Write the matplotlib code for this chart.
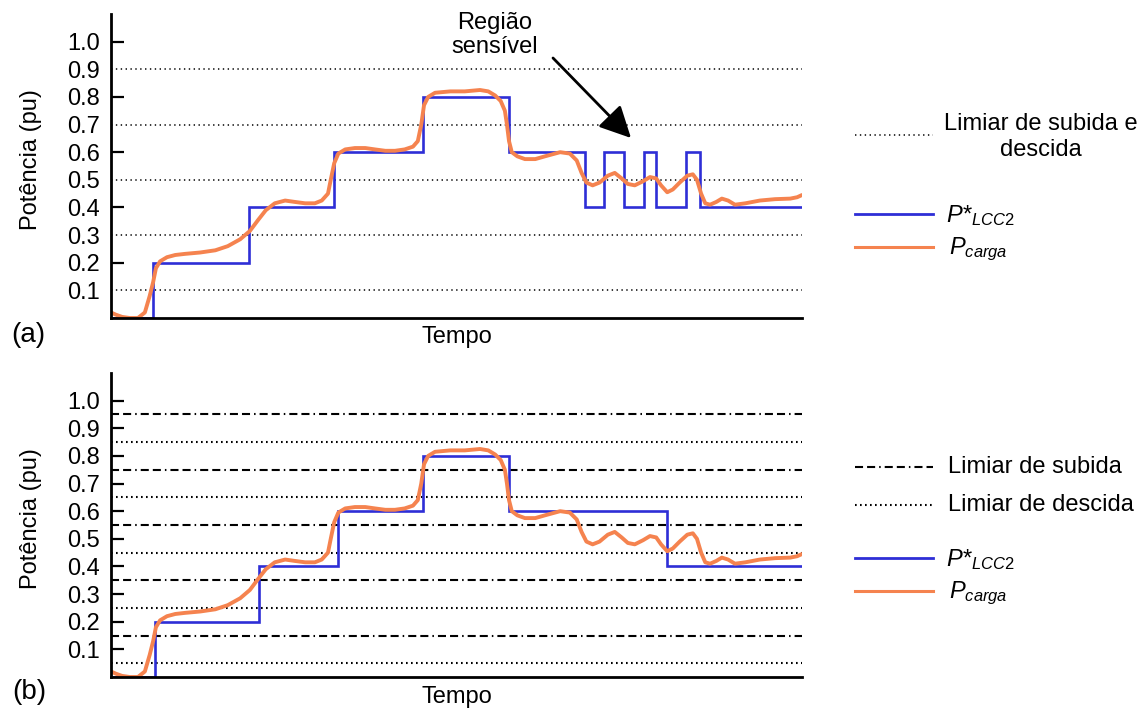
import matplotlib
matplotlib.use("Agg")
import matplotlib.pyplot as plt
from matplotlib.lines import Line2D

plt.rcParams['font.family'] = ['Liberation Sans', 'DejaVu Sans']
plt.rcParams['mathtext.fontset'] = 'custom'
plt.rcParams['mathtext.rm'] = 'Liberation Sans'
plt.rcParams['mathtext.it'] = 'Liberation Sans:italic'
plt.rcParams['lines.scale_dashes'] = False

# ---------------- data ----------------
t_carga = [0, 0.7, 1.6, 2.7, 3.9, 4.9, 5.6, 6.1, 6.5, 7.1, 8.1, 9.3, 10.7, 12.9, 15.1,
           16.9, 18.7, 20.1, 21.3, 22.4, 23.7, 25.2, 26.6, 28.1, 29.5, 30.5, 31.4, 31.8,
           32.3, 32.9, 33.9, 35.3, 36.8, 38.2, 39.7, 41.1, 42.5, 43.7, 44.4, 44.9, 45.3,
           45.9, 46.9, 49.1, 51.2, 53.4, 54.6, 55.6, 56.4, 57.0, 57.3, 57.6, 58.0, 58.8,
           59.9, 61.4, 62.8, 65.0, 66.4, 67.4, 68.1, 68.8, 69.7, 70.7, 71.9, 72.9, 73.9,
           74.8, 75.8, 77.0, 78.0, 78.9, 79.6, 80.5, 81.3, 82.3, 83.4, 84.2, 84.8, 85.4,
           86.0, 86.7, 87.6, 88.4, 89.3, 90.3, 91.8, 93.9, 96.1, 98.3, 99.3, 100]
p_carga = [0.02, 0.012, 0.004, 0.0, 0.0, 0.02, 0.08, 0.13, 0.18, 0.205, 0.22, 0.228,
           0.232, 0.237, 0.245, 0.26, 0.285, 0.315, 0.355, 0.39, 0.415, 0.425, 0.42,
           0.415, 0.415, 0.425, 0.45, 0.5, 0.56, 0.595, 0.61, 0.615, 0.615, 0.61, 0.605,
           0.605, 0.61, 0.62, 0.64, 0.7, 0.77, 0.8, 0.815, 0.82, 0.82, 0.825, 0.82,
           0.805, 0.785, 0.75, 0.7, 0.64, 0.6, 0.585, 0.575, 0.575, 0.585, 0.6, 0.595,
           0.57, 0.525, 0.49, 0.48, 0.49, 0.515, 0.525, 0.505, 0.485, 0.48, 0.495, 0.51,
           0.505, 0.48, 0.455, 0.465, 0.49, 0.515, 0.52, 0.5, 0.45, 0.415, 0.41, 0.42,
           0.432, 0.425, 0.41, 0.415, 0.425, 0.43, 0.432, 0.437, 0.445]

t_ref_a = [0, 6.1, 20.0, 32.3, 45.2, 57.6, 68.6, 71.3, 74.2, 77.1, 78.9, 83.2, 85.2, 100]
p_ref_a = [0, 0.2, 0.4, 0.6, 0.8, 0.6, 0.4, 0.6, 0.4, 0.6, 0.4, 0.6, 0.4, 0.4]

t_ref_b = [0, 6.4, 21.4, 32.9, 45.2, 57.6, 80.4, 100]
p_ref_b = [0, 0.2, 0.4, 0.6, 0.8, 0.6, 0.4, 0.4]

limiar_a = [0.1, 0.3, 0.5, 0.7, 0.9]
limiar_subida_b = [0.15, 0.35, 0.55, 0.75, 0.95]
limiar_descida_b = [0.05, 0.25, 0.45, 0.65, 0.85]

yticks = [0.1, 0.2, 0.3, 0.4, 0.5, 0.6, 0.7, 0.8, 0.9, 1.0]
ytick_labels = ['0.1', '0.2', '0.3', '0.4', '0.5', '0.6', '0.7', '0.8', '0.9', '1.0']

BLUE = '#2E2ED6'
ORANGE = '#F5834F'
FS = 17

W, H = 1142, 711
fig = plt.figure(figsize=(W / 100, H / 100), dpi=100)


def fpx(x, y):
    return (x / W, 1 - y / H)


ax_a = fig.add_axes([111 / W, 1 - 318 / H, 691 / W, 304 / H])
ax_b = fig.add_axes([111 / W, 1 - 677 / H, 691 / W, 304 / H])

dot_a = (0, (1.0, 2.5))
dot_b = (0, (1.2, 2.4))
dashdot_b = (0, (5.8, 2.9, 5.8, 2.9, 1.1, 2.9))

for ax, tref, pref in [(ax_a, t_ref_a, p_ref_a), (ax_b, t_ref_b, p_ref_b)]:
    ax.set_xlim(0, 100)
    ax.set_ylim(0, 1.1)
    ax.plot(tref, pref, drawstyle='steps-post', color=BLUE, lw=1.9, zorder=3,
            solid_joinstyle='miter')
    ax.plot(t_carga, p_carga, color=ORANGE, lw=2.8, zorder=4, solid_capstyle='round',
            solid_joinstyle='round')
    for s in ['top', 'right']:
        ax.spines[s].set_visible(False)
    for s in ['left', 'bottom']:
        ax.spines[s].set_linewidth(2.0)
        ax.spines[s].set_zorder(5)
    ax.set_xticks([])
    ax.set_yticks(yticks)
    ax.set_yticklabels(ytick_labels, fontsize=FS)
    ax.tick_params(axis='y', direction='in', length=9, width=1.6, pad=8)
    ax.set_ylabel('Potência (pu)', fontsize=FS)
    ax.yaxis.set_label_coords(-0.1, 0.52)
    ax.set_xlabel('Tempo', fontsize=FS)

ax_a.xaxis.set_label_coords(0.5, -0.025)
ax_b.xaxis.set_label_coords(0.5, -0.03)

# hide odd tick marks in (a)
for tk, v in zip(ax_a.yaxis.get_major_ticks(), yticks):
    if round(v * 10) % 2 == 1:
        tk.tick1line.set_visible(False)

for v in limiar_a:
    ax_a.axhline(v, color='black', lw=1.1, ls=dot_a, zorder=1)
for v in limiar_subida_b:
    ax_b.axhline(v, color='black', lw=1.5, ls=dashdot_b, zorder=1)
for v in limiar_descida_b:
    ax_b.axhline(v, color='black', lw=1.5, ls=dot_b, zorder=1)

# panel labels
fig.text(*fpx(28, 335), '(a)', fontsize=20, ha='center', va='center')
fig.text(*fpx(29, 692), '(b)', fontsize=20, ha='center', va='center')

# annotation
fig.text(*fpx(495, 35), 'Região\nsensível', fontsize=FS, ha='center', va='center',
         linespacing=1.1)
fig.add_artist(matplotlib.patches.FancyArrowPatch(
    fpx(553, 58), fpx(631, 138), transform=fig.transFigure,
    arrowstyle='-|>,head_length=12,head_width=6', color='black', lw=2.0,
    mutation_scale=1.6, shrinkA=0, shrinkB=0))

# legends
def leg_line(y, **kw):
    fig.add_artist(Line2D([855 / W, 933 / W], [1 - y / H, 1 - y / H],
                          transform=fig.transFigure, **kw))

leg_line(135, color='black', lw=1.1, ls=dot_a)
fig.text(*fpx(1041, 137), 'Limiar de subida e\ndescida', fontsize=FS,
         ha='center', va='center', linespacing=1.2)
leg_line(214, color=BLUE, lw=2.0)
fig.text(*fpx(946, 216), r'$P$*$_{\mathit{LCC2}}$', fontsize=FS, fontstyle='italic',
         ha='left', va='center')
leg_line(247, color=ORANGE, lw=2.2)
fig.text(*fpx(949, 249), r'$P_{carga}$', fontsize=FS, ha='left', va='center')

leg_line(467, color='black', lw=1.5, ls=dashdot_b)
fig.text(*fpx(948, 467), 'Limiar de subida', fontsize=FS, ha='left', va='center')
leg_line(505, color='black', lw=1.5, ls=dot_b)
fig.text(*fpx(948, 505), 'Limiar de descida', fontsize=FS, ha='left', va='center')
leg_line(558, color=BLUE, lw=2.0)
fig.text(*fpx(946, 560), r'$P$*$_{\mathit{LCC2}}$', fontsize=FS, fontstyle='italic',
         ha='left', va='center')
leg_line(591, color=ORANGE, lw=2.2)
fig.text(*fpx(949, 593), r'$P_{carga}$', fontsize=FS, ha='left', va='center')

fig.savefig('out.png', dpi=100)
